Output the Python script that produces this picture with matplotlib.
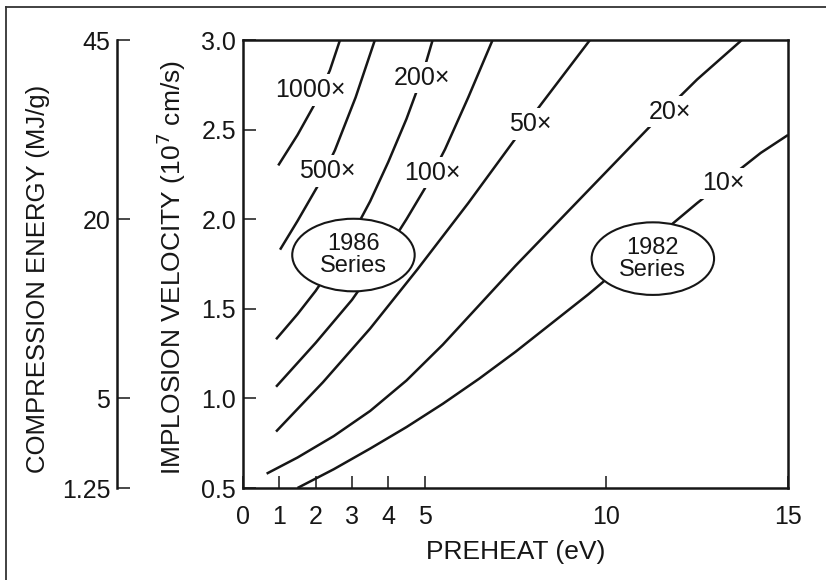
import numpy as np
import matplotlib.pyplot as plt
from matplotlib.patches import Ellipse
from matplotlib.lines import Line2D

# curves: preheat (eV) vs implosion velocity (1e7 cm/s)
x1000 = [0.97, 1.5, 1.94, 2.39, 2.67]
y1000 = [2.30, 2.47, 2.63, 2.83, 3.0]
x500 = [1.02, 1.5, 2.07, 2.53, 3.1, 3.63]
y500 = [1.83, 1.99, 2.19, 2.385, 2.68, 3.0]
x200 = [0.91, 1.5, 2.0, 2.5, 3.0, 3.5, 4.0, 4.5, 4.9, 5.22]
y200 = [1.33, 1.47, 1.60, 1.75, 1.91, 2.10, 2.32, 2.56, 2.78, 3.0]
x100 = [0.91, 2.0, 3.0, 4.0, 4.5, 5.0, 5.56, 6.2, 6.87]
y100 = [1.065, 1.31, 1.55, 1.84, 2.0, 2.17, 2.39, 2.68, 3.0]
x50 = [0.91, 2.2, 3.5, 4.8, 6.2, 7.5, 8.2, 9.55]
y50 = [0.815, 1.09, 1.39, 1.72, 2.09, 2.45, 2.64, 3.0]
x20 = [0.65, 1.5, 2.5, 3.5, 4.5, 5.5, 6.5, 7.5, 8.5, 9.5, 10.5, 11.5, 12.5, 13.73]
y20 = [0.58, 0.67, 0.79, 0.93, 1.10, 1.30, 1.52, 1.74, 1.95, 2.16, 2.37, 2.58, 2.78, 3.0]
x10 = [1.5, 2.5, 3.5, 4.5, 5.5, 6.5, 7.5, 8.5, 9.5, 10.5, 11.5, 12.5, 13.5, 14.25, 15.0]
y10 = [0.5, 0.605, 0.72, 0.84, 0.97, 1.11, 1.26, 1.42, 1.58, 1.75, 1.92, 2.09, 2.25, 2.37, 2.47]

curve_labels = ["1000\u00d7", "500\u00d7", "200\u00d7", "100\u00d7", "50\u00d7", "20\u00d7", "10\u00d7"]
label_x = [1.85, 2.31, 4.92, 5.20, 7.91, 11.76, 13.23]
label_y = [2.72, 2.27, 2.79, 2.26, 2.53, 2.60, 2.20]

series_names = ["1986\nSeries", "1982\nSeries"]
series_x = [3.04, 11.28]
series_y = [1.80, 1.78]

xticks = [0, 1, 2, 3, 4, 5, 10, 15]
yticks = [0.5, 1.0, 1.5, 2.0, 2.5, 3.0]
eticks = [1.25, 5, 20, 45]

plt.rcParams['font.family'] = ['Liberation Sans', 'DejaVu Sans']
ink = '#161616'

fig = plt.figure(figsize=(8.26, 5.8), dpi=100)
ax = fig.add_axes([243/826, 1-488/580, 545/826, 448/580])

for xs, ys in [(x1000, y1000), (x500, y500), (x200, y200), (x100, y100),
               (x50, y50), (x20, y20), (x10, y10)]:
	ax.plot(xs, ys, color=ink, lw=1.8, solid_capstyle='butt', solid_joinstyle='round', zorder=2)

for t, lx, ly in zip(curve_labels, label_x, label_y):
	ax.text(lx, ly, t, ha='center', va='center', fontsize=18, color=ink,
		bbox=dict(boxstyle='square,pad=0.15', fc='white', ec='none'), zorder=4)

for t, sx, sy in zip(series_names, series_x, series_y):
	ax.add_patch(Ellipse((sx, sy), 3.37, 0.405, fc='white', ec=ink, lw=1.5, zorder=3))
	ax.text(sx, sy, t, ha='center', va='center', fontsize=17,
		linespacing=1.0, color=ink, zorder=4)

ax.set_xlim(0, 15)
ax.set_ylim(0.5, 3.0)
ax.set_xticks(xticks)
ax.set_xticklabels([str(v) for v in xticks])
ax.set_yticks(yticks)
ax.set_yticklabels(["%.1f" % v for v in yticks])
ax.tick_params(direction='in', length=9, width=1.1, labelsize=18, colors=ink)
ax.tick_params(axis='x', pad=12)
ax.tick_params(axis='y', pad=5)
for s in ax.spines.values():
	s.set_linewidth(1.8)
	s.set_color(ink)

ax.set_xlabel("PREHEAT (eV)", fontsize=19, color=ink, labelpad=8)

# energy scale: E = 5 v^2 (MJ/g)
sec = ax.secondary_yaxis(-0.231, functions=(lambda v: 5*np.asarray(v)**2,
	lambda e: np.sqrt(np.clip(e, 0, None)/5)))
sec.set_yticks(eticks)
sec.set_yticklabels(["1.25", "5", "20", "45"])
sec.tick_params(direction='in', length=9, width=1.1, labelsize=18, colors=ink, pad=5)
sec.spines['left'].set_linewidth(1.8)
sec.spines['left'].set_color(ink)

fig.text(171/826, 1-268/580, "IMPLOSION VELOCITY (10$^7$ cm/s)", rotation=90,
	ha='center', va='center', fontsize=19, color=ink)
fig.text(38/826, 1-279/580, "COMPRESSION ENERGY (MJ/g)", rotation=90,
	ha='center', va='center', fontsize=18.5, color=ink)

# outer frame of the scanned figure
fig.add_artist(Line2D([6/826, 6/826], [0, 1-7/580], transform=fig.transFigure, color='#333333', lw=1.3))
fig.add_artist(Line2D([6/826, 1], [1-7/580, 1-7/580], transform=fig.transFigure, color='#333333', lw=1.3))

fig.savefig("out.png", dpi=100)
